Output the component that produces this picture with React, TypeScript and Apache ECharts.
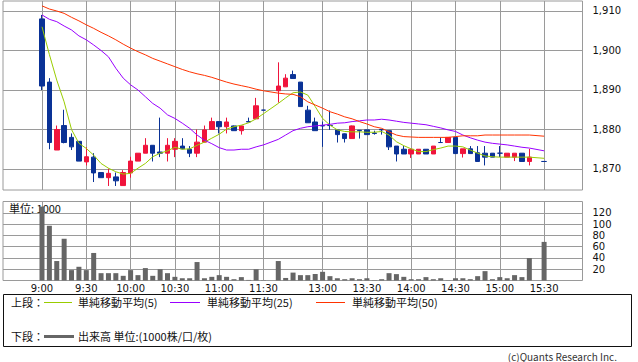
import React, { useEffect, useRef } from "react";
import * as echarts from "echarts";

// ---- axis ticks / labels ----
const tickSlots = [0, 6, 12, 18, 24, 30, 38, 44, 50, 56, 62, 68];
const tickLabels = ["9:00", "9:30", "10:00", "10:30", "11:00", "11:30", "13:00", "13:30", "14:00", "14:30", "15:00", "15:30"];
const priceTicks = [1870, 1880, 1890, 1900, 1910];
const volumeTicks = [20, 40, 60, 80, 100, 120];

// ---- 5-minute candles (slot index 0..68; null = no trade) ----
const open = [
  1908, 1892, 1874.8, 1881, 1878, 1877, 1871.8, 1873, 1869.1, 1867.8,
  1868, 1865.8, 1869, 1872, 1874, 1876, 1874.3, 1874, 1875, 1875.8,
  1875, 1874, 1876.8, 1880, 1882, 1880.7, 1880.9, 1879.7, 1882, 1882.7,
  1884.9, null, 1889.8, 1890.8, 1893.9, 1892, 1884.9, 1881.9, 1881, 1881,
  1879.9, 1878.9, 1877.7, 1879.8, 1879.9, 1879.1, 1880, 1879.7, 1875.8, 1875,
  1873.8, 1873.8, 1875, 1873.8, 1876.7, 1876.7, 1878, 1873.9, 1875.1, 1874.1,
  1874, 1874, 1874, 1873, 1873, 1874, 1871.9, null, 1871.9,
];
const close = [
  1891, 1876.7, 1880, 1876.7, 1875.6, 1872, 1873.1, 1869, 1867.8, 1868.9,
  1867, 1869.1, 1872, 1874, 1876, 1874, 1874, 1876, 1877, 1875.1,
  1874, 1876.8, 1879.9, 1882, 1880.7, 1881.9, 1879.7, 1880.9, 1881.9, 1886,
  1884.9, null, 1891, 1893, 1892.9, 1885.8, 1881.7, 1879.7, 1880.9, 1881,
  1878.7, 1877.7, 1880.9, 1879.7, 1878.7, 1879, 1879.9, 1875.6, 1873.8, 1873.8,
  1875, 1875, 1873.8, 1875.8, 1876.7, 1878, 1873.9, 1875.1, 1873.9, 1871.9,
  1873, 1873, 1874, 1874, 1874, 1871.9, 1873, null, 1871.9,
];
const low = [
  1890, 1875, 1874.8, 1876.5, 1874.8, 1872, 1870.9, 1866.7, 1867.8, 1865.7,
  1865.7, 1865.8, 1867.8, 1872, 1874, 1871.9, 1873, 1871.9, 1873, 1875,
  1873, 1873, 1876.8, 1880, 1879, 1879, 1879.7, 1878.7, 1881.9, 1882.7,
  1884.9, null, 1886.8, 1890.8, 1892.9, 1885.8, 1881.7, 1879.7, 1875.6, 1879.9,
  1876.7, 1876.7, 1877.7, 1877.7, 1878.7, 1878.7, 1878.7, 1874.8, 1871.9, 1873.8,
  1872.8, 1873.8, 1873.8, 1873.8, 1876.7, 1876.7, 1873.9, 1872.9, 1873.9, 1871.9,
  1870.9, 1873, 1873, 1873, 1872, 1871.9, 1870.9, null, 1871.9,
];
const high = [
  1909, 1893, 1881, 1885, 1879, 1877, 1875.5, 1874, 1869.1, 1870.1,
  1869.1, 1869.7, 1873.1, 1874, 1877.8, 1876, 1883, 1877.8, 1877.8, 1877.8,
  1875.8, 1880, 1881, 1883, 1882, 1883, 1881, 1881, 1883, 1888,
  1884.9, null, 1897, 1894, 1894.9, 1892, 1886, 1883, 1882, 1884.8,
  1879.9, 1879, 1881, 1879.8, 1879.9, 1879.7, 1880, 1879.7, 1875.8, 1875.8,
  1875, 1875, 1875, 1875.8, 1878, 1878, 1878, 1875.1, 1875.8, 1875.8,
  1875.8, 1874, 1875.8, 1874, 1874, 1874, 1875.1, null, 1871.9,
];

// ---- moving averages ----
const ma5 = [
  1906.0, 1899.0, 1892.5, 1887.0, 1880.0, 1876.5, 1875.2, 1873.5, 1871.4, 1870.2,
  1869.3, 1868.7, 1868.9, 1870.2, 1871.4, 1873.1, 1874.0, 1874.6, 1875.5, 1875.0,
  1875.1, 1876.0, 1876.8, 1877.8, 1878.8, 1880.1, 1880.7, 1881.1, 1881.7, 1882.7,
  1884.0, null, 1886.6, 1888.0, 1889.3, 1889.5, 1888.7, 1885.8, 1882.8, 1881.1,
  1879.9, 1879.5, 1879.4, 1879.4, 1879.3, 1879.3, 1879.5, 1878.6, 1876.9, 1875.9,
  1875.1, 1874.4, 1874.4, 1874.9, 1875.3, 1875.8, 1875.8, 1875.6, 1874.8, 1874.0,
  1873.3, 1873.1, 1873.0, 1873.0, 1873.0, 1873.0, 1873.0, null, 1872.7,
];
const ma25 = [
  1909.0, 1907.9, 1907.3, 1906.2, 1905.2, 1903.7, 1902.7, 1901.4, 1900.0, 1898.4,
  1895.5, 1893.0, 1891.3, 1890.0, 1888.3, 1886.6, 1885.4, 1883.7, 1882.8, 1881.6,
  1880.3, 1878.6, 1877.3, 1876.4, 1875.4, 1874.8, 1874.8, 1875.0, 1875.0, 1875.6,
  1876.1, null, 1877.5, 1878.6, 1879.7, 1880.3, 1880.7, 1880.9, 1881.1, 1881.3,
  1881.6, 1881.7, 1882.0, 1882.2, 1882.4, 1882.4, 1882.6, 1882.4, 1882.1, 1881.8,
  1881.6, 1881.4, 1881.2, 1880.8, 1880.4, 1879.9, 1879.5, 1878.6, 1877.9, 1877.3,
  1876.8, 1876.5, 1876.3, 1876.1, 1875.8, 1875.5, 1875.3, null, 1874.6,
];
const ma50 = [
  1911.3, 1910.5, 1910.0, 1909.4, 1908.4, 1907.5, 1906.5, 1905.6, 1904.6, 1903.7,
  1902.7, 1901.6, 1900.6, 1899.7, 1898.9, 1898.0, 1897.3, 1896.6, 1895.9, 1895.2,
  1894.6, 1894.1, 1893.7, 1893.2, 1892.6, 1892.0, 1891.5, 1891.1, 1890.7, 1890.2,
  1889.8, null, 1889.2, 1889.0, 1888.9, 1888.3, 1887.0, 1886.2, 1885.4, 1884.5,
  1883.9, 1883.2, 1882.7, 1882.0, 1881.4, 1880.7, 1880.3, 1879.4, 1878.6, 1878.2,
  1878.1, 1878.0, 1878.0, 1878.0, 1878.0, 1878.0, 1878.2, 1878.4, 1878.4, 1878.4,
  1878.6, 1878.6, 1878.6, 1878.6, 1878.6, 1878.6, 1878.6, null, 1878.3,
];

// ---- volume (unit: 1000) ----
const volume = [
  131, 97, 34.5, 74, 18.4, 24.3, 18.4, 48.8, 13, 13,
  13, 8.3, 18.4, 9.5, 22, 8.3, 20, 13, 6.5, 4,
  4, 32.7, 4, 6.5, 9.5, 6.5, 2.3, 6, 1, 20,
  0.5, null, 34.5, 4.5, 14, 9.5, 9.5, 11.5, 15.4, 7.7,
  4, 2.3, 4, 2.3, 4, 0.5, 2.3, 13, 11.3, 6.5,
  2.3, 2.3, 6, 2.3, 4, 0.5, 4, 4, 2.3, 7.7,
  16.6, 2.3, 6, 4, 9.5, 6, 39.8, null, 68.4,
];

const UP = "#f0143c";
const DOWN = "#0a3296";
const GRID = "#9a9a9a";
const NUM_FONT = "DejaVu Sans";
const JP_FONT = "Noto Sans CJK JP";

function pairs(arr: (number | null)[]) {
  const out: number[][] = [];
  arr.forEach((v, i) => {
    if (v !== null) out.push([i, v]);
  });
  return out;
}

export default function App() {
  const ref = useRef<HTMLDivElement>(null);
  useEffect(() => {
    if (!ref.current) return;
    const chart = echarts.init(ref.current, undefined, { renderer: "svg" });

    const candles: number[][] = [];
    open.forEach((o, i) => {
      if (o !== null) candles.push([i, o, close[i] as number, low[i] as number, high[i] as number]);
    });

    const xMin = -5.28;
    const xMax = 73.2;
    const labelFor = (v: number) => {
      const k = tickSlots.indexOf(Math.round(v));
      return k >= 0 ? tickLabels[k] : "";
    };

    const lineSeries = (name: string, data: (number | null)[], color: string) => ({
      name,
      type: "line",
      xAxisIndex: 0,
      yAxisIndex: 0,
      data: pairs(data),
      showSymbol: false,
      symbol: "none",
      lineStyle: { color, width: 1 },
      itemStyle: { color },
      z: 5,
      silent: true,
    });

    const option: any = {
      animation: false,
      backgroundColor: "#ffffff",
      textStyle: { fontFamily: NUM_FONT },
      grid: [
        { left: 3, top: 1, width: 579.5, height: 189, show: true, borderColor: GRID, borderWidth: 1, backgroundColor: "transparent" },
        { left: 3, top: 201.5, width: 579.5, height: 79, show: true, borderColor: GRID, borderWidth: 1, backgroundColor: "transparent" },
      ],
      xAxis: [
        {
          type: "value", gridIndex: 0, min: xMin, max: xMax,
          axisLine: { show: false },
          axisTick: { show: false, customValues: tickSlots },
          axisLabel: { show: false, customValues: tickSlots },
          splitLine: { show: true, lineStyle: { color: GRID, width: 1 } },
        },
        {
          type: "value", gridIndex: 1, min: xMin, max: xMax,
          axisLine: { show: false },
          axisTick: { show: false, customValues: tickSlots },
          axisLabel: {
            show: true, customValues: tickSlots, formatter: labelFor,
            fontSize: 10, fontFamily: NUM_FONT, color: "#111", margin: 3,
          },
          splitLine: { show: true, lineStyle: { color: GRID, width: 1 } },
        },
      ],
      yAxis: [
        {
          type: "value", gridIndex: 0, position: "right", min: 1864.68, max: 1912.53,
          axisLine: { show: false },
          axisTick: { show: true, length: 6, lineStyle: { color: GRID }, customValues: priceTicks },
          axisLabel: {
            customValues: priceTicks,
            formatter: (v: number) => v.toLocaleString("en-US"),
            fontSize: 10, fontFamily: NUM_FONT, color: "#111", margin: 10,
          },
          splitLine: { show: true, lineStyle: { color: GRID, width: 1 } },
        },
        {
          type: "value", gridIndex: 1, position: "right", min: 0, max: 140,
          axisLine: { show: false },
          axisTick: { show: true, length: 6, lineStyle: { color: GRID }, customValues: volumeTicks },
          axisLabel: {
            customValues: volumeTicks,
            fontSize: 10, fontFamily: NUM_FONT, color: "#111", margin: 10,
          },
          splitLine: { show: true, lineStyle: { color: GRID, width: 1 } },
        },
      ],
      series: [
        {
          name: "candles",
          type: "candlestick",
          xAxisIndex: 0,
          yAxisIndex: 0,
          data: candles,
          encode: { x: 0, y: [1, 2, 3, 4] },
          barWidth: 5,
          silent: true,
          itemStyle: {
            color: UP, color0: DOWN, borderColor: UP, borderColor0: DOWN,
            borderColorDoji: DOWN, borderWidth: 1,
          },
          z: 3,
        },
        lineSeries("ma5", ma5, "#99cc00"),
        lineSeries("ma25", ma25, "#9900ff"),
        lineSeries("ma50", ma50, "#ff3300"),
        {
          name: "volume",
          type: "bar",
          xAxisIndex: 1,
          yAxisIndex: 1,
          data: pairs(volume),
          barWidth: 5,
          itemStyle: { color: "#666666" },
          silent: true,
          z: 3,
        },
      ],
      graphic: [
        { type: "text", left: 9, top: 202, z: 1, style: { text: "単位: 1000", font: `11px "${JP_FONT}"`, fill: "#111" } },
        { type: "rect", shape: { x: 3.5, y: 294.5, width: 628, height: 52 }, style: { fill: "none", stroke: "#111", lineWidth: 1 } },
        { type: "text", x: 11, y: 302, style: { text: "上段：", font: `11px "${JP_FONT}"`, fill: "#111", verticalAlign: "middle" } },
        { type: "line", shape: { x1: 44, y1: 302.5, x2: 72, y2: 302.5 }, style: { stroke: "#99cc00", lineWidth: 1 } },
        { type: "text", x: 78, y: 302, style: { text: "単純移動平均(5)", font: `11px "${JP_FONT}"`, fill: "#111", verticalAlign: "middle" } },
        { type: "line", shape: { x1: 170, y1: 302.5, x2: 200, y2: 302.5 }, style: { stroke: "#9900ff", lineWidth: 1 } },
        { type: "text", x: 207, y: 302, style: { text: "単純移動平均(25)", font: `11px "${JP_FONT}"`, fill: "#111", verticalAlign: "middle" } },
        { type: "line", shape: { x1: 316, y1: 302.5, x2: 345, y2: 302.5 }, style: { stroke: "#ff3300", lineWidth: 1 } },
        { type: "text", x: 352, y: 302, style: { text: "単純移動平均(50)", font: `11px "${JP_FONT}"`, fill: "#111", verticalAlign: "middle" } },
        { type: "text", x: 11, y: 336, style: { text: "下段：", font: `11px "${JP_FONT}"`, fill: "#111", verticalAlign: "middle" } },
        { type: "line", shape: { x1: 44, y1: 336.5, x2: 74, y2: 336.5 }, style: { stroke: "#666666", lineWidth: 3 } },
        { type: "text", x: 78, y: 336, style: { text: "出来高 単位:(1000株/口/枚)", font: `11px "${JP_FONT}"`, fill: "#111", verticalAlign: "middle" } },
        { type: "text", x: 617, y: 356, style: { text: "(c)Quants Research Inc.", font: `10px "${JP_FONT}"`, fill: "#333", align: "right", verticalAlign: "middle" } },
      ],
    };
    chart.setOption(option);
    return () => chart.dispose();
  }, []);
  return <div ref={ref} style={{ position: "absolute", left: 0, top: 0, width: 638, height: 362 }} />;
}
